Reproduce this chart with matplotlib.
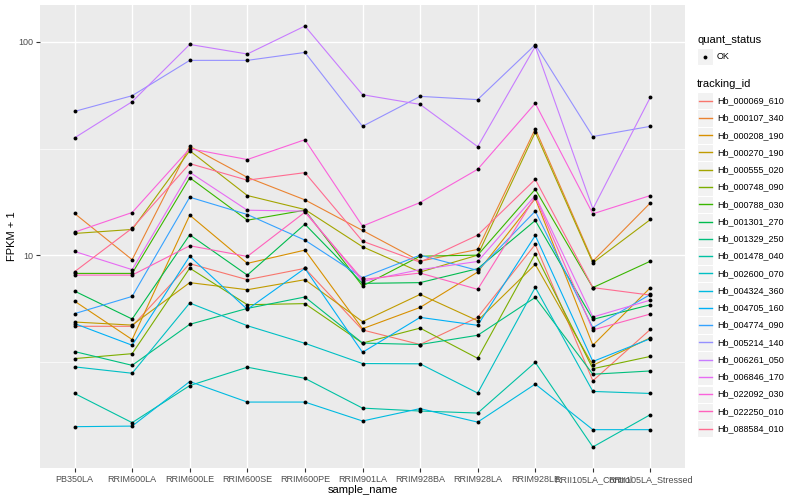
import numpy as np
import matplotlib.pyplot as plt
from matplotlib.lines import Line2D
from matplotlib.patches import Rectangle
from matplotlib.ticker import FixedLocator, NullFormatter

plt.rcParams['font.family'] = ['Liberation Sans', 'DejaVu Sans']

# ---- data (FPKM + 1) ----
samples = ['PB350LA', 'RRIM600LA', 'RRIM600LE', 'RRIM600SE', 'RRIM600PE',
           'RRIM901LA', 'RRIM928BA', 'RRIM928LA', 'RRIM928LE',
           'RRII105LA_Control', 'RRII105LA_Stressed']

tracking_ids = ['Hb_000069_610', 'Hb_000107_340', 'Hb_000208_190', 'Hb_000270_190',
                'Hb_000555_020', 'Hb_000748_090', 'Hb_000788_030', 'Hb_001301_270',
                'Hb_001329_250', 'Hb_001478_040', 'Hb_002600_070', 'Hb_004324_360',
                'Hb_004705_160', 'Hb_004774_090', 'Hb_005214_140', 'Hb_006261_050',
                'Hb_006846_170', 'Hb_022092_030', 'Hb_022250_010', 'Hb_088584_010']

hb_000069_610 = [4.66, 4.66, 9.15, 7.70, 8.70, 4.48, 3.83, 5.13, 11.26, 2.59, 4.51]
hb_000107_340 = [15.72, 9.55, 32.4, 23.2, 18.2, 13.09, 9.40, 10.67, 39.1, 9.40, 17.63]
hb_000208_190 = [6.11, 4.04, 15.43, 9.18, 10.59, 4.54, 5.71, 8.36, 18.47, 3.80, 7.07]
hb_000270_190 = [4.88, 4.72, 7.46, 6.91, 7.70, 4.90, 6.57, 4.95, 9.08, 3.06, 4.12]
hb_000555_020 = [12.67, 13.23, 30.9, 19.07, 16.4, 10.98, 8.36, 10.03, 37.7, 9.24, 14.73]
hb_000748_090 = [3.29, 3.47, 8.72, 5.88, 5.95, 3.89, 4.57, 3.30, 10.18, 2.95, 3.37]
hb_000788_030 = [8.24, 8.24, 23.1, 14.62, 16.28, 7.19, 9.92, 10.03, 20.4, 7.07, 9.40]
hb_001301_270 = [6.81, 5.04, 12.49, 8.09, 14.0, 7.40, 7.46, 8.67, 14.57, 5.02, 5.88]
hb_001329_250 = [3.55, 3.06, 4.76, 5.65, 6.39, 3.89, 3.83, 4.23, 6.36, 2.78, 2.88]
hb_001478_040 = [2.26, 1.65, 2.46, 3.00, 2.66, 1.93, 1.87, 1.83, 3.16, 1.27, 1.80]
hb_002600_070 = [3.01, 2.81, 5.99, 4.69, 3.88, 3.12, 3.11, 2.27, 7.09, 2.31, 2.26]
hb_004324_360 = [1.58, 1.59, 2.57, 2.06, 2.06, 1.68, 1.92, 1.66, 2.50, 1.53, 1.53]
hb_004705_160 = [4.80, 3.80, 9.92, 5.59, 8.70, 3.52, 5.13, 4.71, 12.40, 3.19, 4.08]
hb_004774_090 = [5.34, 6.43, 18.73, 15.54, 11.79, 7.87, 10.03, 8.51, 16.11, 4.59, 6.57]
hb_005214_140 = [47.2, 55.9, 81.8, 81.8, 89.1, 40.2, 55.5, 53.6, 96.8, 36.0, 40.2]
hb_006261_050 = [35.5, 52.4, 97.1, 87.6, 118.4, 56.5, 50.9, 32.3, 95.1, 16.5, 55.1]
hb_006846_170 = [10.44, 8.58, 24.5, 16.28, 16.11, 7.56, 8.58, 9.37, 19.07, 5.15, 6.18]
hb_022092_030 = [12.85, 15.88, 31.6, 28.1, 34.8, 13.71, 17.68, 25.3, 51.5, 15.66, 19.07]
hb_022250_010 = [8.09, 8.09, 11.10, 9.89, 15.93, 7.72, 8.27, 6.94, 18.81, 4.48, 5.32]
hb_088584_010 = [8.39, 13.41, 26.9, 22.5, 24.4, 11.66, 9.30, 12.44, 22.7, 7.07, 6.52]

series = [hb_000069_610, hb_000107_340, hb_000208_190, hb_000270_190, hb_000555_020,
          hb_000748_090, hb_000788_030, hb_001301_270, hb_001329_250, hb_001478_040,
          hb_002600_070, hb_004324_360, hb_004705_160, hb_004774_090, hb_005214_140,
          hb_006261_050, hb_006846_170, hb_022092_030, hb_022250_010, hb_088584_010]

# ggplot hue palette, 20 levels
colours = ['#F8766D', '#EA8331', '#D89000', '#C09B00', '#A3A500', '#7CAE00', '#39B600',
           '#00BB4E', '#00BF7D', '#00C1A3', '#00BFC4', '#00BAE0', '#00B0F6', '#35A2FF',
           '#9590FF', '#C77CFF', '#E76BF3', '#FA62DB', '#FF62BC', '#FF6C91']

W, H = 800, 500
fig = plt.figure(figsize=(W / 100, H / 100), dpi=100)
ax = fig.add_axes([40 / W, 1 - 468 / H, 645 / W, 463 / H])
ax.set_facecolor('#EBEBEB')

x = np.arange(len(samples))
for vals, col in zip(series, colours):
    ax.plot(x, vals, color=col, lw=0.8, zorder=2)
for vals in series:
    ax.plot(x, vals, 'o', color='black', ms=2.8, mew=0, zorder=3)

ax.set_yscale('log')
logs = np.log10(np.concatenate(series))
pad = 0.05 * (logs.max() - logs.min())
ax.set_ylim(10 ** (logs.min() - pad), 10 ** (logs.max() + pad))
ax.set_xlim(-0.6, len(samples) - 1 + 0.6)

ax.yaxis.set_major_locator(FixedLocator([10, 100]))
ax.yaxis.set_minor_locator(FixedLocator([10 ** 0.5, 10 ** 1.5]))
ax.yaxis.set_minor_formatter(NullFormatter())
ax.set_yticklabels(['10', '100'])
ax.set_xticks(x)
ax.set_xticklabels(samples)
ax.xaxis.set_minor_locator(FixedLocator([]))

ax.grid(which='major', color='white', lw=1.0)
ax.grid(which='minor', axis='y', color='white', lw=0.5)
ax.set_axisbelow(True)
for s in ax.spines.values():
    s.set_visible(False)
ax.tick_params(which='major', length=3, width=0.8, color='#333333',
               labelcolor='#4D4D4D', labelsize=6.5, pad=2)
ax.tick_params(which='minor', length=0)
ax.set_xlabel('sample_name', fontsize=8, labelpad=1)
ax.set_ylabel('FPKM + 1', fontsize=8, labelpad=1)

# ---- legends (drawn by hand, ggplot look) ----
def fx(px):
    return px / W

def fy(py):
    return 1 - py / H

def key_box(yc):
    fig.add_artist(Rectangle((fx(697), fy(yc + 8.6)), 16 / W, 17.2 / H,
                             transform=fig.transFigure, facecolor='#F2F2F2',
                             edgecolor='white', lw=0.8, zorder=1))

fig.text(fx(697), fy(40), 'quant_status', fontsize=8, va='center')
key_box(56.5)
fig.add_artist(Line2D([fx(705)], [fy(56.5)], marker='o', color='black', ms=2.8,
                      mew=0, transform=fig.transFigure, zorder=5))
fig.text(fx(717), fy(56.5), 'OK', fontsize=6.5, va='center')

fig.text(fx(697), fy(84), 'tracking_id', fontsize=8, va='center')
for i, (tid, col) in enumerate(zip(tracking_ids, colours)):
    yc = 100.7 + 17.26 * i
    key_box(yc)
    fig.add_artist(Line2D([fx(698.5), fx(711.5)], [fy(yc), fy(yc)], color=col, lw=1.0,
                          transform=fig.transFigure, zorder=5))
    fig.text(fx(717), fy(yc), tid, fontsize=6.5, va='center')

fig.savefig('out.png', dpi=100)
